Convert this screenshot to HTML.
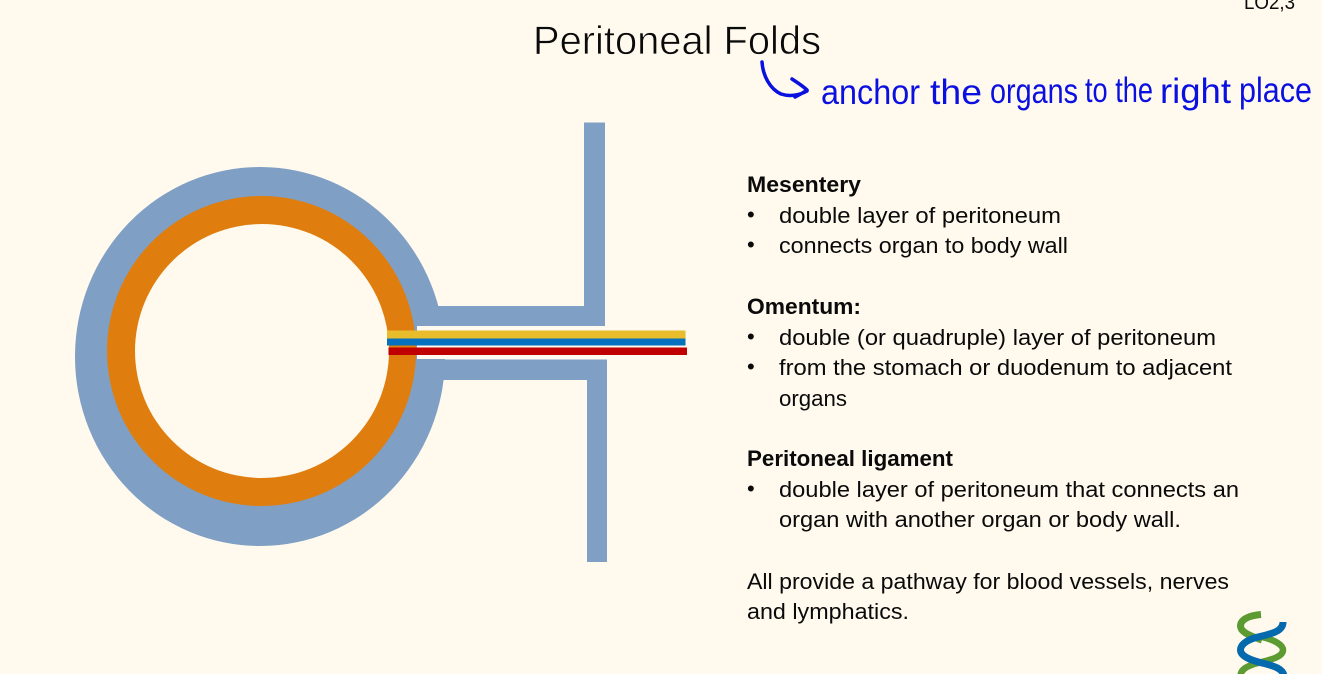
<!DOCTYPE html>
<html>
<head>
<meta charset="utf-8">
<style>
html,body{margin:0;padding:0;background:#fff9ee;width:1322px;height:674px;overflow:hidden}
svg{display:block}
text{font-family:"Liberation Sans",sans-serif;fill:#0a0a0a}
.b{font-size:22px}
.bd{font-size:22px;font-weight:bold}
.h{font-family:"Liberation Sans",sans-serif;fill:#0a10e0;font-size:35px}
</style>
</head>
<body>
<svg width="1322" height="674" viewBox="0 0 1322 674" xmlns="http://www.w3.org/2000/svg">
<rect width="1322" height="674" fill="#fff9ee"/>

<!-- diagram -->
<ellipse cx="260" cy="356.5" rx="185" ry="189.500" fill="#7f9fc4"/>
<rect x="417" y="326" width="40" height="33" fill="#fff9ee"/>
<path d="M415 306H584V122.500H605V326H415Z" fill="#7f9fc4"/>
<path d="M415 359.500H607V562H587V380H415Z" fill="#7f9fc4"/>
<ellipse cx="261.500" cy="351" rx="154.500" ry="155" fill="#df7e0e"/>
<ellipse cx="262" cy="351" rx="127" ry="127" fill="#fff9ee"/>
<rect x="387" y="330.500" width="298.500" height="8" fill="#e8bc2a"/>
<rect x="387" y="338.500" width="298.500" height="7" fill="#0570be"/>
<rect x="388.500" y="347.500" width="298.500" height="7.500" fill="#c00000"/>

<!-- title -->
<text x="533" y="54" font-size="40" textLength="288" lengthAdjust="spacingAndGlyphs" stroke="#fff9ee" stroke-width="0.7">Peritoneal Folds</text>
<text x="1244" y="9" font-size="20" textLength="51" lengthAdjust="spacingAndGlyphs">LO2,3</text>

<!-- handwriting -->
<path d="M762 62C763 76 770 89 781 94C790 97 800 95 807 91M792 79C798 83 803 86 807 90C803 93 799 95 795 97" fill="none" stroke="#0a10e0" stroke-width="3.500" stroke-linecap="round" stroke-linejoin="round"/>
<text class="h" x="821" y="104" textLength="99" lengthAdjust="spacingAndGlyphs">anchor</text>
<text class="h" x="930" y="104" textLength="52" lengthAdjust="spacingAndGlyphs">the</text>
<text class="h" x="990" y="103" textLength="88" lengthAdjust="spacingAndGlyphs">organs</text>
<text class="h" x="1085" y="102" textLength="68" lengthAdjust="spacingAndGlyphs">to the</text>
<text class="h" x="1160" y="103" textLength="71" lengthAdjust="spacingAndGlyphs">right</text>
<text class="h" x="1239" y="102" textLength="73" lengthAdjust="spacingAndGlyphs">place</text>

<!-- body -->
<text class="bd" x="747" y="192" textLength="114" lengthAdjust="spacingAndGlyphs">Mesentery</text>
<text class="b" x="747" y="222">•</text>
<text class="b" x="779" y="223" textLength="282" lengthAdjust="spacingAndGlyphs">double layer of peritoneum</text>
<text class="b" x="747" y="252">•</text>
<text class="b" x="779" y="253" textLength="289" lengthAdjust="spacingAndGlyphs">connects organ to body wall</text>

<text class="bd" x="747" y="314" textLength="114" lengthAdjust="spacingAndGlyphs">Omentum:</text>
<text class="b" x="747" y="344">•</text>
<text class="b" x="779" y="345" textLength="437" lengthAdjust="spacingAndGlyphs">double (or quadruple) layer of peritoneum</text>
<text class="b" x="747" y="374">•</text>
<text class="b" x="779" y="375" textLength="453" lengthAdjust="spacingAndGlyphs">from the stomach or duodenum to adjacent</text>
<text class="b" x="779" y="406" textLength="68" lengthAdjust="spacingAndGlyphs">organs</text>

<text class="bd" x="747" y="466" textLength="206" lengthAdjust="spacingAndGlyphs">Peritoneal ligament</text>
<text class="b" x="747" y="496">•</text>
<text class="b" x="779" y="497" textLength="460" lengthAdjust="spacingAndGlyphs">double layer of peritoneum that connects an</text>
<text class="b" x="779" y="527" textLength="402" lengthAdjust="spacingAndGlyphs">organ with another organ or body wall.</text>

<text class="b" x="747" y="589" textLength="482" lengthAdjust="spacingAndGlyphs">All provide a pathway for blood vessels, nerves</text>
<text class="b" x="747" y="619" textLength="162" lengthAdjust="spacingAndGlyphs">and lymphatics.</text>

<!-- logo -->
<path d="M1261 614.500C1248 615.500 1240.500 620 1240.500 626C1240.500 632 1250 636 1262 640" fill="none" stroke="#5c9a32" stroke-width="7"/>
<path d="M1262 637C1275 640 1283 645 1283 650C1283 657 1270 660 1258 663C1246 666 1240.500 670 1240.500 676" fill="none" stroke="#5c9a32" stroke-width="6.500"/>
<path d="M1283 622C1283 632 1270 634 1258 637C1246 640 1240.500 645 1240.500 650C1240.500 656 1250 660 1262 663C1275 666 1283 669 1284 676" fill="none" stroke="#0569ad" stroke-width="7"/>
</svg>
</body>
</html>
